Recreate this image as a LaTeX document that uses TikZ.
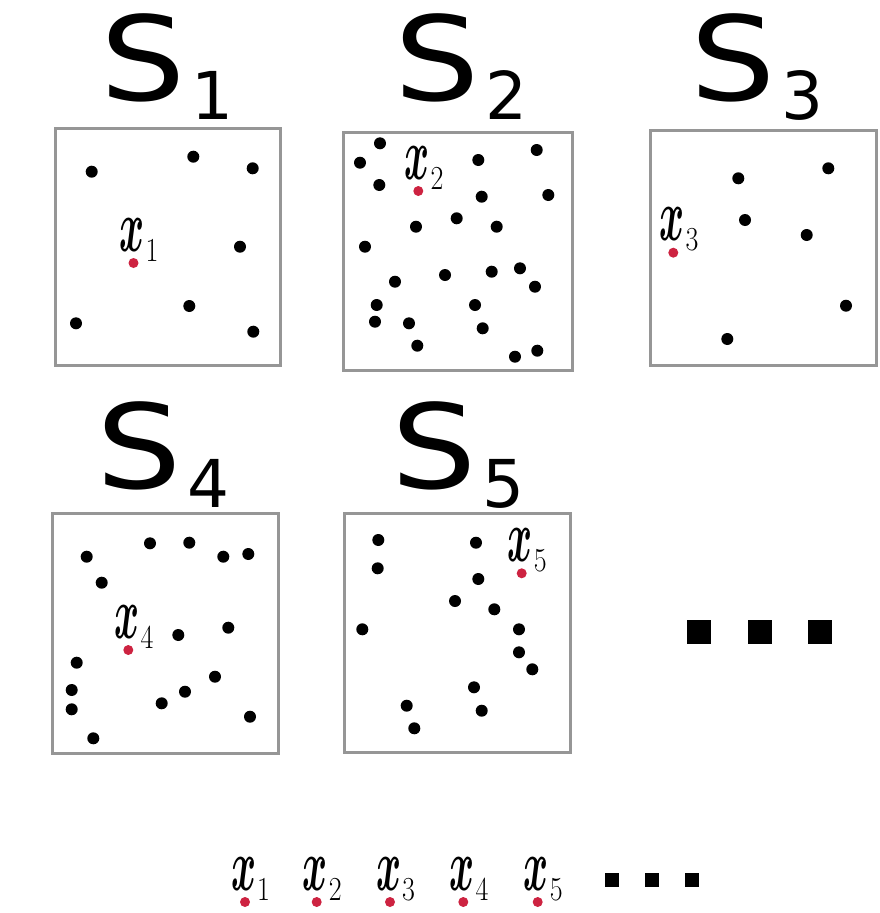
\documentclass[tikz,border=0pt]{standalone}
\usepackage{fontspec}
\usepackage{graphicx}
\usepackage{bm}
\newfontfamily\dejavu{DejaVu Sans}
\usetikzlibrary{calc}
\definecolor{reddot}{RGB}{205,35,65}
\definecolor{boxgray}{RGB}{150,150,150}
\newcommand{\Slab}[1]{{\dejavu\fontsize{117}{117}\selectfont\scalebox{1.15}[1]{S}\kern6pt\raisebox{-19pt}{\fontsize{66}{66}\selectfont #1}}}
\newcommand{\xlab}[1]{\scalebox{3.8}[7.4]{$\bm{x}$}\kern1pt\raisebox{-10pt}{\scalebox{1}[1.2]{\fontsize{28}{28}\selectfont #1}}}
\begin{document}
\begin{tikzpicture}[x=1pt,y=-1pt,
  box/.style={draw=boxgray, line width=3pt},
  rdot/.style={circle, fill=reddot, inner sep=0pt, minimum size=10pt},
  slabel/.style={anchor=base west, inner sep=0pt},
  xl/.style={anchor=base west, inner sep=0pt},
  sq/.style={fill=black, inner sep=0pt, minimum size=24pt}]
\useasboundingbox (0,0) rectangle (880,913);
% boxes
\draw[box] (55,128) rectangle (280,365);
\draw[box] (343,132) rectangle (572,370);
\draw[box] (650,130) rectangle (876,365);
\draw[box] (52,513) rectangle (278,753);
\draw[box] (344,513) rectangle (570,752);
% set labels
\node[slabel] (S1) at (100,100) {\Slab{1}};
\node[slabel] (S2) at (394,100) {\Slab{2}};
\node[slabel] (S3) at (690,100) {\Slab{3}};
\node[slabel] (S4) at (96,488) {\Slab{4}};
\node[slabel] (S5) at (391,488) {\Slab{5}};
% S1 points
\foreach \p in {(91.7,171.7),(193.3,156.7),(252.7,168.3),(240,246.7),(189.3,306),(76,323.3),(253.3,331.7)}
  \fill \p circle (6);
% S2 points
\foreach \p in {(380,143.3),(360,162.7),(379.3,185),(478.3,160),(536.7,150),(481.7,196.7),(548.3,195),(416,226.7),(456.7,218.3),(496.7,226.7),(365,246.7),(445,275),(491.7,271.7),(520,268.3),(535,286.7),(395,281.7),(376.7,305),(375,321.7),(409,323.3),(475,305),(482.7,328.3),(417.3,345.7),(515,356.7),(537.3,350.7)}
  \fill \p circle (6);
% S3 points
\foreach \p in {(738.3,178.3),(828.3,168.3),(745,220),(806.7,235),(846,305.7),(727.3,339)}
  \fill \p circle (6);
% S4 points
\foreach \p in {(150,543.3),(189.3,542.7),(86.7,556.7),(223.3,556.7),(248.3,554),(101.7,582.7),(228.3,627.7),(178.3,635),(76.7,662.7),(215,676.7),(185,691.7),(161.7,703.3),(71.7,690),(71.7,709.3),(250,716.7),(93.3,738.3)}
  \fill \p circle (6);
% S5 points
\foreach \p in {(378.3,540),(476,542.7),(377.7,568.3),(478.3,579),(455,601),(494.3,609.3),(362.3,629.3),(519,629.3),(519,652.3),(532.3,669.3),(474,687.3),(481.7,710.7),(406.7,705.7),(414.3,728.3)}
  \fill \p circle (6);
% selected points
\node[rdot] (r1) at (133.5,263) {};
\node[rdot] (r2) at (418.3,191) {};
\node[rdot] (r3) at (673.3,252.7) {};
\node[rdot] (r4) at (128.3,650) {};
\node[rdot] (r5) at (521.7,573.3) {};
\node[xl] (l1) at ($(r1)+(-14,-12)$) {\xlab{1}};
\node[xl] (l2) at ($(r2)+(-14,-12)$) {\xlab{2}};
\node[xl] (l3) at ($(r3)+(-14,-12)$) {\xlab{3}};
\node[xl] (l4) at ($(r4)+(-14,-12)$) {\xlab{4}};
\node[xl] (l5) at ($(r5)+(-14,-12)$) {\xlab{5}};
% ellipsis right
\node[sq] (e1) at (699,632) {};
\node[sq] (e2) at (760,632) {};
\node[sq] (e3) at (820,632) {};
% bottom sequence
\node[rdot] (b1) at (245,902) {};
\node[rdot] (b2) at (316.7,902) {};
\node[rdot] (b3) at (390,902) {};
\node[rdot] (b4) at (463.3,902) {};
\node[rdot] (b5) at (537.7,902) {};
\node[xl] (m1) at ($(b1)+(-14,-12)$) {\xlab{1}};
\node[xl] (m2) at ($(b2)+(-14,-12)$) {\xlab{2}};
\node[xl] (m3) at ($(b3)+(-14,-12)$) {\xlab{3}};
\node[xl] (m4) at ($(b4)+(-14,-12)$) {\xlab{4}};
\node[xl] (m5) at ($(b5)+(-14,-12)$) {\xlab{5}};
\node[sq, minimum size=14pt] (f1) at (611.7,880) {};
\node[sq, minimum size=14pt] (f2) at (651.7,880) {};
\node[sq, minimum size=14pt] (f3) at (691.7,880) {};
\end{tikzpicture}
\end{document}
